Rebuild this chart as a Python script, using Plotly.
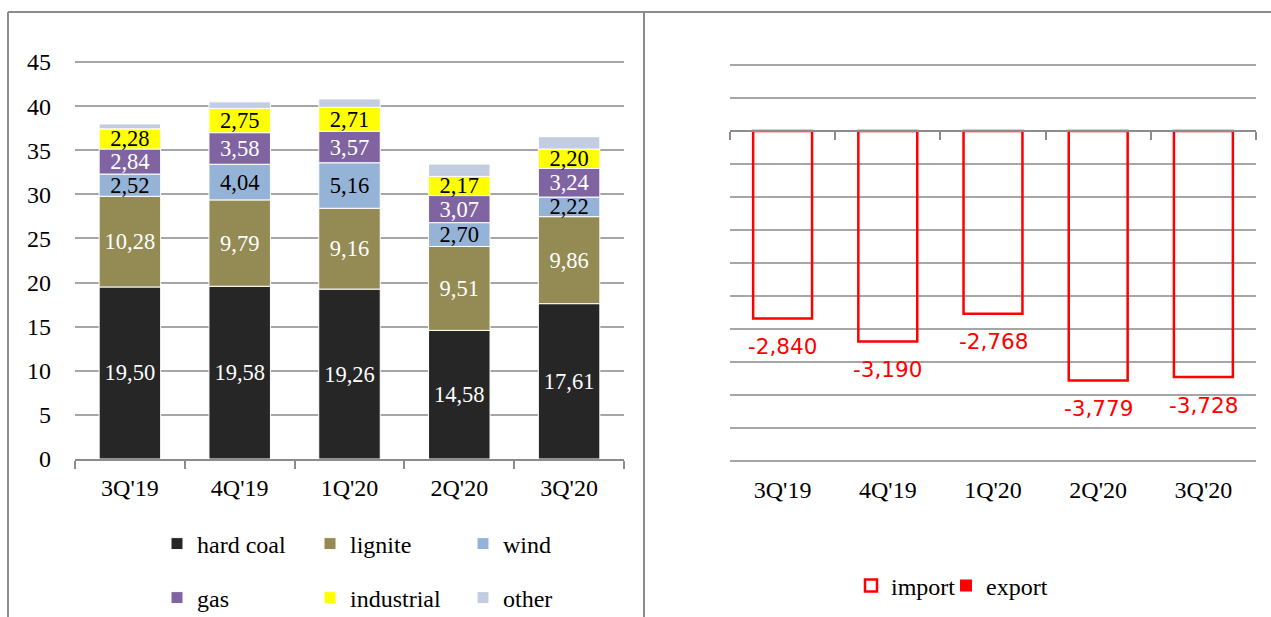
import plotly.graph_objects as go

# ---------------- data ----------------
quarters = ["3Q'19", "4Q'19", "1Q'20", "2Q'20", "3Q'20"]
hard_coal = [19.50, 19.58, 19.26, 14.58, 17.61]
lignite = [10.28, 9.79, 9.16, 9.51, 9.86]
wind = [2.52, 4.04, 5.16, 2.70, 2.22]
gas = [2.84, 3.58, 3.57, 3.07, 3.24]
industrial = [2.28, 2.75, 2.71, 2.17, 2.20]
other = [0.56, 0.74, 0.95, 1.40, 1.40]

imports = [-2.840, -3.190, -2.768, -3.779, -3.728]
exports = [0, 0, 0, 0, 0]

left_ticks = [0, 5, 10, 15, 20, 25, 30, 35, 40, 45]

# ---------------- styling ----------------
SERIF = "Liberation Serif"
SANS = "DejaVu Sans"
GRID = "#a6a6a6"
AXIS = "#8c8c8c"

W, H = 1271, 617

fig = go.Figure()

stack = [
    ("hard coal", hard_coal, "#262626", "white", True, "legend"),
    ("lignite", lignite, "#948a54", "white", True, "legend"),
    ("wind", wind, "#95b3d7", "black", True, "legend"),
    ("gas", gas, "#8064a2", "white", True, "legend2"),
    ("industrial", industrial, "#ffff00", "black", True, "legend2"),
    ("other", other, "#c3cde2", "black", False, "legend2"),
]
for name, vals, col, tcol, lab, leg in stack:
    fig.add_trace(go.Bar(
        x=quarters, y=vals, name=name,
        marker=dict(color=col, line=dict(color="white", width=1)),
        text=[f"{v:.2f}".replace(".", ",") for v in vals] if lab else None,
        textposition="inside" if lab else "none",
        insidetextanchor="middle",
        textangle=0,
        constraintext="none",
        textfont=dict(family=SERIF, size=22.5, color=tcol),
        xaxis="x", yaxis="y", legend=leg,
        hoverinfo="skip",
    ))

# right chart: import bars (labels axis) and export bars (zero-line axis)
fig.add_trace(go.Bar(
    x=quarters, y=imports, name="import",
    marker=dict(color="rgba(255,255,255,0)", line=dict(color="#ff0000", width=2.5)),
    xaxis="x3", yaxis="y2", legend="legend3", hoverinfo="skip",
))
fig.add_trace(go.Bar(
    x=quarters, y=exports, name="export",
    marker=dict(color="#ff0000", line=dict(color="#ff0000", width=0)),
    xaxis="x2", yaxis="y2", legend="legend4", hoverinfo="skip",
))

for q, v in zip(quarters, imports):
    fig.add_annotation(
        x=q, y=v, xref="x3", yref="y2",
        text=f"{v:.3f}".replace(".", ","),
        showarrow=False, yanchor="middle", yshift=-28,
        font=dict(family=SANS, size=21.5, color="#ff0000"),
    )

# ---- geometry (pixel based) ----
# left: value 0 at y=459 px, 45 at y=62 px
L_ppu = (459 - 62) / 45.0
l_range = [0, 45.25]
left_dom_y = [(H - 459) / H, (H - (459 - l_range[1] * L_ppu)) / H]
left_dom_x = [75 / W, 624 / W]

# right: value 0 at y=131 px, -5 at y=461 px
R_ppu = (461 - 131) / 5.0
r_range = [-5.03, 1.03]
r_bot_px = 131 - r_range[0] * R_ppu
r_top_px = 131 - r_range[1] * R_ppu
right_dom_y = [(H - r_bot_px) / H, (H - r_top_px) / H]
right_dom_x = [730 / W, 1256 / W]
zero_pos = (H - 131) / H

fig.update_layout(
    width=W, height=H,
    margin=dict(l=0, r=0, t=0, b=0, autoexpand=False),
    paper_bgcolor="white", plot_bgcolor="white",
    barmode="relative", bargap=0.44,
    separators=",.",
    showlegend=True,
    xaxis=dict(
        domain=left_dom_x, anchor="y", type="category",
        showline=True, linecolor=AXIS, linewidth=2,
        ticks="outside", tickson="boundaries", ticklen=8, tickcolor=AXIS, tickwidth=2,
        tickfont=dict(family=SERIF, size=24, color="black"),
        ticklabelstandoff=6,
        showgrid=False, fixedrange=True,
    ),
    yaxis=dict(
        domain=left_dom_y, anchor="x", range=l_range,
        tickvals=left_ticks, showgrid=True, gridcolor=GRID, gridwidth=2,
        zeroline=False, showline=False,
        tickfont=dict(family=SERIF, size=24, color="black"),
        ticklabelstandoff=23,
    ),
    xaxis2=dict(
        domain=right_dom_x, anchor="free", position=zero_pos, type="category",
        showline=True, linecolor=AXIS, linewidth=2,
        ticks="outside", tickson="boundaries", ticklen=8, tickcolor=AXIS, tickwidth=2,
        showticklabels=False, showgrid=False,
    ),
    xaxis3=dict(
        domain=right_dom_x, anchor="y2", overlaying="x2", type="category",
        showline=False, ticks="", showgrid=False,
        tickfont=dict(family=SERIF, size=24, color="black"),
        ticklabelstandoff=10,
    ),
    yaxis2=dict(
        domain=right_dom_y, anchor="x3", range=r_range, tick0=0, dtick=0.5,
        showgrid=True, gridcolor=GRID, gridwidth=2,
        zeroline=False, showline=False, showticklabels=False,
    ),
    legend=dict(
        orientation="h", x=157 / W, xanchor="left", y=(H - 544) / H, yanchor="middle",
        font=dict(family=SERIF, size=24, color="black"),
        entrywidth=108, entrywidthmode="pixels", traceorder="normal",
        bgcolor="rgba(0,0,0,0)",
    ),
    legend2=dict(
        orientation="h", x=157 / W, xanchor="left", y=(H - 598) / H, yanchor="middle",
        font=dict(family=SERIF, size=24, color="black"),
        entrywidth=108, entrywidthmode="pixels", traceorder="normal",
        bgcolor="rgba(0,0,0,0)",
    ),
    legend3=dict(
        orientation="h", x=851 / W, xanchor="left", y=(H - 586) / H, yanchor="middle",
        font=dict(family=SERIF, size=24, color="black"),
        bgcolor="rgba(0,0,0,0)",
    ),
    legend4=dict(
        orientation="h", x=946 / W, xanchor="left", y=(H - 586) / H, yanchor="middle",
        font=dict(family=SERIF, size=24, color="black"),
        bgcolor="rgba(0,0,0,0)",
    ),
)

# panel frame lines
frame_top = (H - 12) / H
fig.add_shape(type="line", xref="paper", yref="paper", x0=8 / W, x1=1, y0=frame_top, y1=frame_top,
              line=dict(color=AXIS, width=2))
fig.add_shape(type="line", xref="paper", yref="paper", x0=8 / W, x1=8 / W, y0=0, y1=frame_top,
              line=dict(color=AXIS, width=2))
fig.add_shape(type="line", xref="paper", yref="paper", x0=644 / W, x1=644 / W, y0=0, y1=frame_top,
              line=dict(color=AXIS, width=2))

fig.write_html("out.html", config={"displayModeBar": False})
